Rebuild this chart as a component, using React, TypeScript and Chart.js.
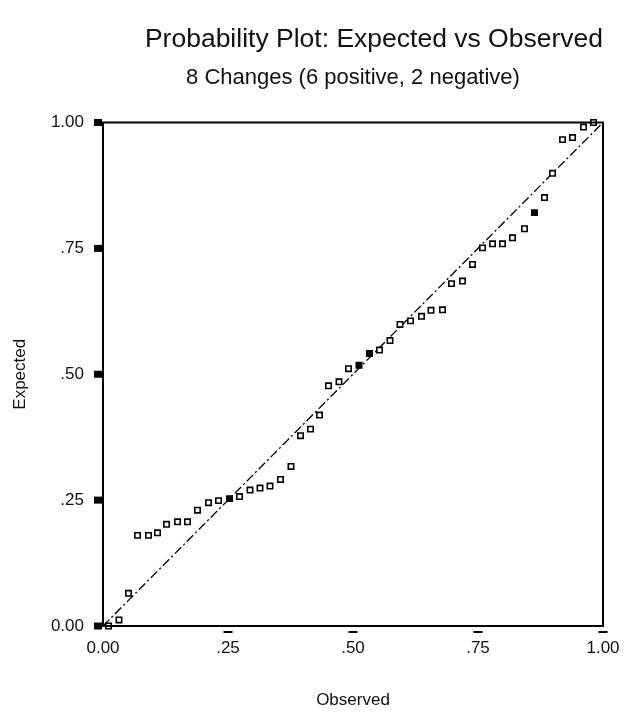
import { useEffect, useRef } from "react";
import { Chart, registerables } from "chart.js";

Chart.register(...registerables);

// Observed cumulative probability (x) for each case
const observed = [
  0.011, 0.032, 0.051, 0.069, 0.091, 0.109, 0.127, 0.149, 0.169, 0.189,
  0.211, 0.231, 0.253, 0.273, 0.294, 0.314, 0.334, 0.355, 0.376, 0.395,
  0.415, 0.433, 0.451, 0.472, 0.491, 0.512, 0.533, 0.553, 0.574, 0.594,
  0.615, 0.637, 0.656, 0.679, 0.697, 0.719, 0.739, 0.759, 0.779, 0.799,
  0.819, 0.843, 0.863, 0.883, 0.899, 0.919, 0.939, 0.961, 0.981,
];

// Expected cumulative probability (y) for each case
const expected = [
  0.0, 0.012, 0.065, 0.18, 0.18, 0.185, 0.202, 0.207, 0.207, 0.23,
  0.245, 0.249, 0.253, 0.257, 0.27, 0.274, 0.278, 0.291, 0.317, 0.378,
  0.391, 0.419, 0.477, 0.485, 0.511, 0.518, 0.541, 0.548, 0.567, 0.599,
  0.606, 0.615, 0.627, 0.628, 0.68, 0.685, 0.718, 0.751, 0.759, 0.759,
  0.771, 0.789, 0.821, 0.851, 0.899, 0.966, 0.97, 0.991, 1.0,
];

// indices of markers that appear solid in the picture
const solidPoints = [12, 25, 26, 42];

// reference diagonal endpoints
const diagonal = [0, 1];

const xTickValues = [0, 0.25, 0.5, 0.75, 1];
const xTickLabels = ["0.00", ".25", ".50", ".75", "1.00"];
const yTickValues = [0, 0.25, 0.5, 0.75, 1];
const yTickLabels = ["0.00", ".25", ".50", ".75", "1.00"];

const titleText = "Probability Plot: Expected vs Observed";
const subtitleText = "8 Changes (6 positive, 2 negative)";
const xTitle = "Observed";
const yTitle = "Expected";

const SANS = "'Liberation Sans', Arial, sans-serif";
const INK = "#111";

const framePlugin = {
  id: "frameAndMarks",
  afterDraw(chart: any) {
    const { ctx, chartArea: a, scales } = chart;
    ctx.save();
    ctx.strokeStyle = "#000";
    ctx.lineWidth = 2;
    ctx.strokeRect(a.left, a.top, a.right - a.left, a.bottom - a.top);
    ctx.fillStyle = "#000";
    yTickValues.forEach((v) => {
      const py = scales.y.getPixelForValue(v);
      ctx.fillRect(a.left - 9, py - 3.5, 8, 7);
    });
    xTickValues.slice(1).forEach((v) => {
      const px = scales.x.getPixelForValue(v);
      ctx.fillRect(px - 4.5, a.bottom + 5, 9, 2);
    });
    ctx.restore();
  },
};

export default function App() {
  const ref = useRef<HTMLCanvasElement | null>(null);

  useEffect(() => {
    if (!ref.current) return;
    const chart = new Chart(ref.current, {
      type: "scatter",
      data: {
        datasets: [
          {
            data: observed.map((x, i) => ({ x, y: expected[i] })),
            pointStyle: "rect",
            pointRadius: 3.8,
            pointBorderWidth: 1.6,
            pointBorderColor: "#000",
            pointBackgroundColor: observed.map((_, i) =>
              solidPoints.includes(i) ? "#000" : "#fff"
            ),
            clip: false,
            order: 1,
          } as any,
          {
            data: diagonal.map((v) => ({ x: v, y: v })),
            showLine: true,
            borderColor: "#000",
            borderWidth: 1.3,
            borderDash: [9, 3, 2, 3],
            pointRadius: 0,
            fill: false,
            order: 2,
          } as any,
        ],
      },
      options: {
        animation: false,
        responsive: false,
        layout: { padding: { left: 0, right: 29, top: 0, bottom: 0 } },
        plugins: {
          legend: { display: false },
          tooltip: { enabled: false },
          title: {
            display: true,
            text: titleText,
            fullSize: false,
            align: "end",
            color: INK,
            font: { family: SANS, size: 26.5, weight: "normal" },
            padding: { top: 24, bottom: 8.5 },
          },
          subtitle: {
            display: true,
            text: subtitleText,
            fullSize: false,
            align: "center",
            color: INK,
            font: { family: SANS, size: 22, weight: "normal" },
            padding: { top: 0, bottom: 31.8 },
          },
        } as any,
        scales: {
          x: {
            type: "linear",
            position: "bottom",
            min: 0,
            max: 1,
            afterBuildTicks: (s: any) => {
              s.ticks = xTickValues.map((v) => ({ value: v }));
            },
            afterFit: (s: any) => {
              s.height = 92;
              s.paddingLeft = 0;
              s.paddingRight = 0;
            },
            ticks: {
              autoSkip: false,
              maxRotation: 0,
              padding: 11.8,
              color: INK,
              font: { family: SANS, size: 17 },
              callback: (_v: any, i: number) => xTickLabels[i],
            },
            grid: { display: false, drawTicks: false },
            border: { display: false },
            title: {
              display: true,
              text: xTitle,
              color: INK,
              font: { family: SANS, size: 17 },
              padding: { top: 0, bottom: 7 },
            },
          },
          y: {
            type: "linear",
            position: "left",
            min: 0,
            max: 1,
            afterBuildTicks: (s: any) => {
              s.ticks = yTickValues.map((v) => ({ value: v }));
            },
            afterFit: (s: any) => {
              s.width = 103;
              s.paddingTop = 0;
              s.paddingBottom = 0;
            },
            ticks: {
              autoSkip: false,
              padding: 19,
              color: INK,
              font: { family: SANS, size: 17 },
              callback: (_v: any, i: number) => yTickLabels[i],
            },
            grid: { display: false, drawTicks: false },
            border: { display: false },
            title: {
              display: true,
              text: yTitle,
              color: INK,
              font: { family: SANS, size: 17 },
              padding: { top: 9.8, bottom: 0 },
            },
          },
        } as any,
      },
      plugins: [framePlugin],
    });
    return () => chart.destroy();
  }, []);

  return (
    <div
      style={{
        position: "fixed",
        left: 0,
        top: 0,
        width: 632,
        height: 718,
        background: "#fff",
      }}
    >
      <canvas ref={ref} width={632} height={718} />
    </div>
  );
}
